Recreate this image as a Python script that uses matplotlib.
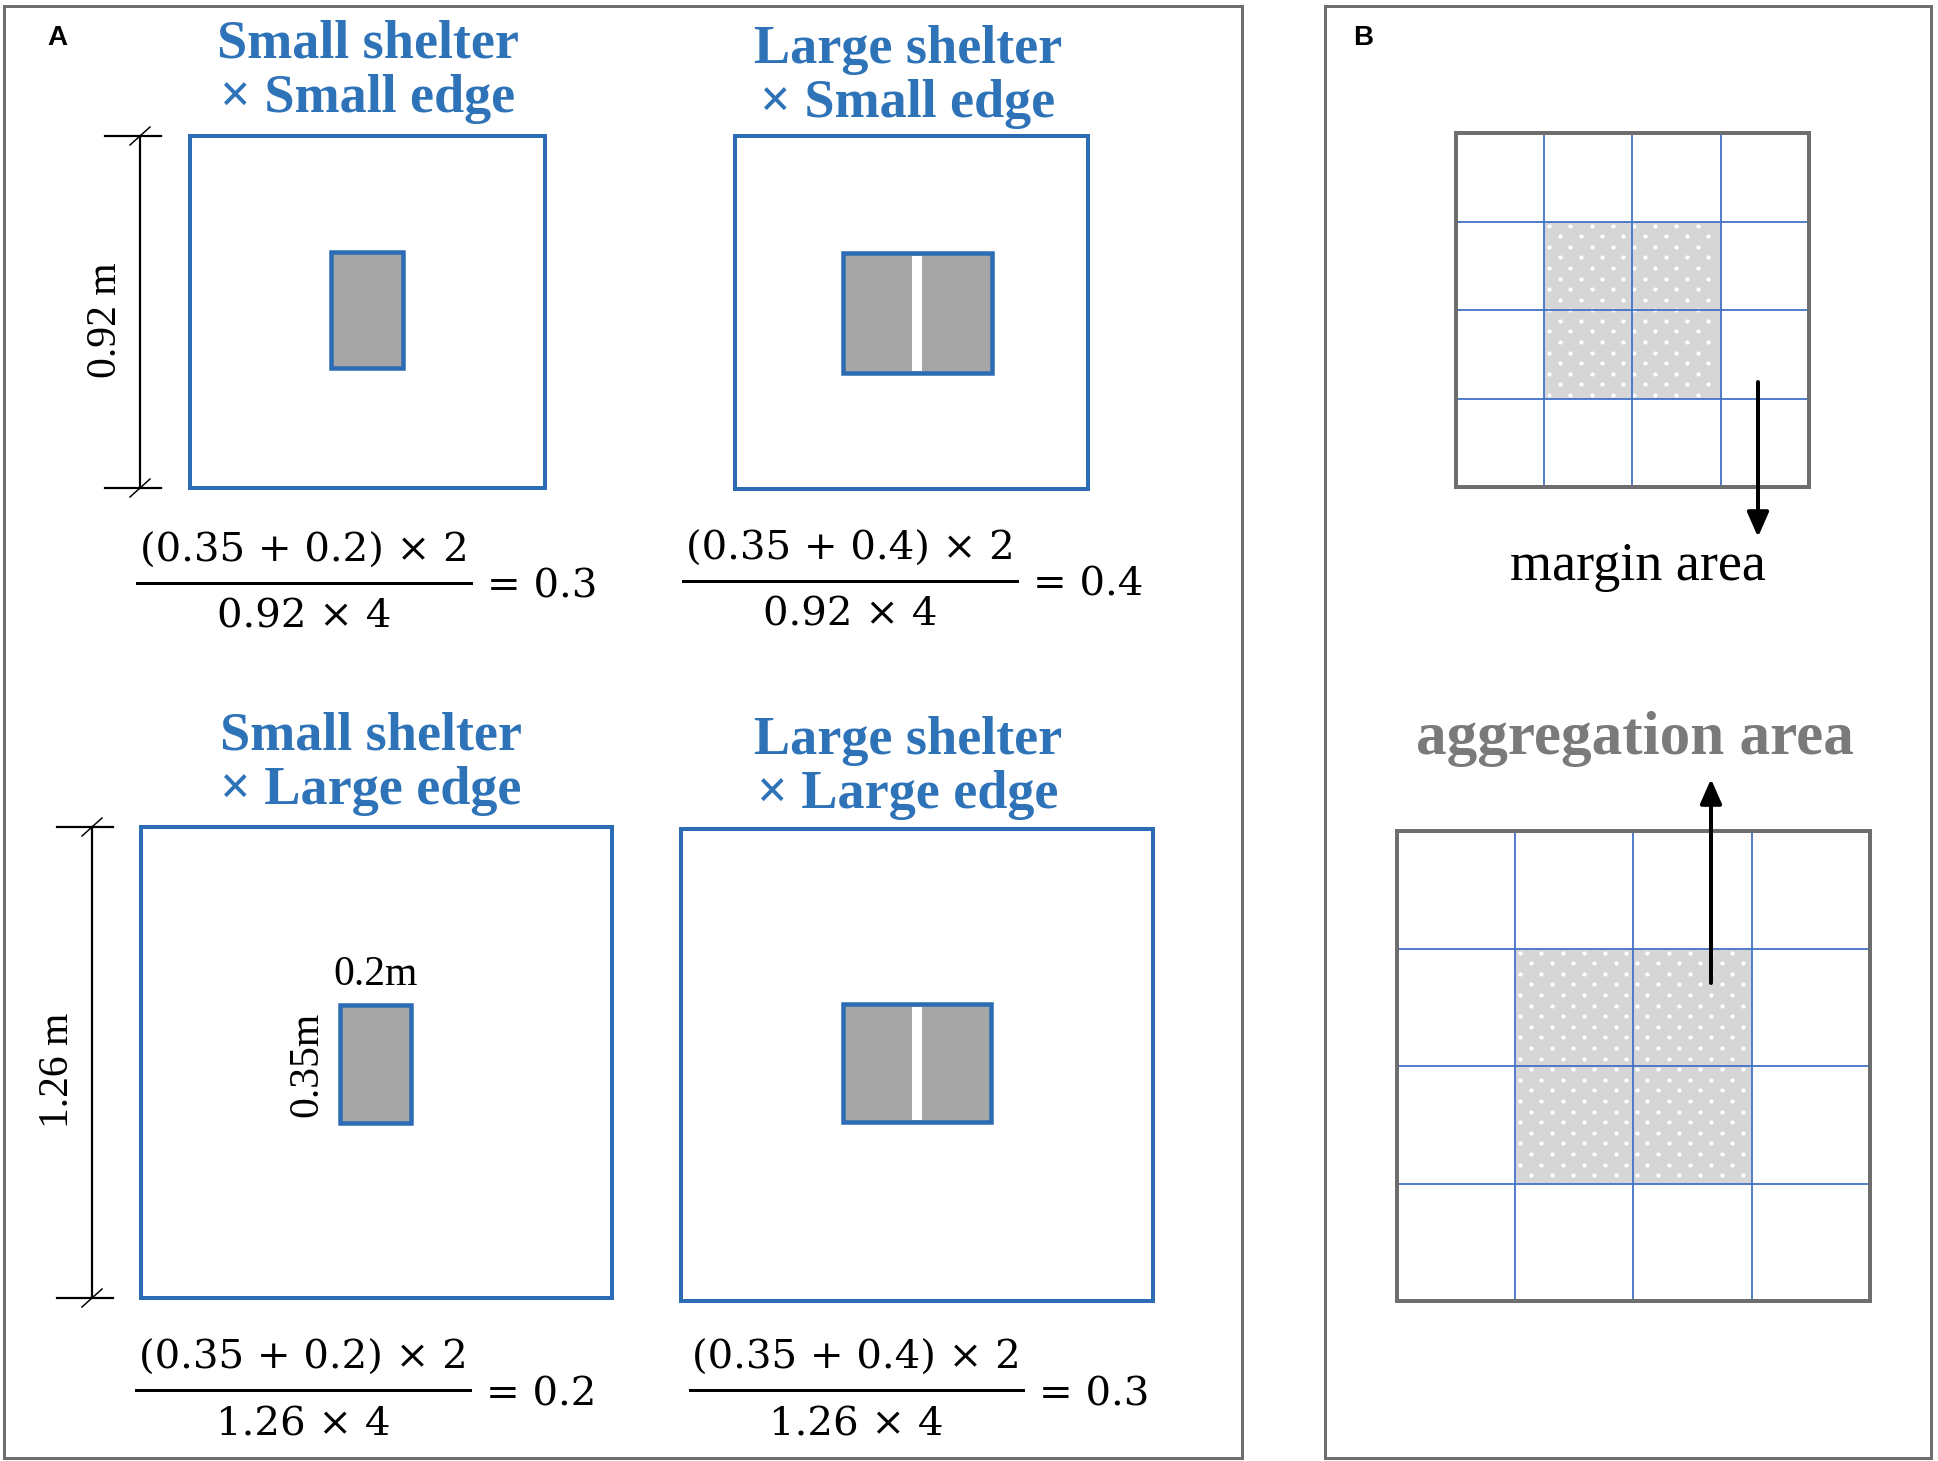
import numpy as np
import matplotlib.pyplot as plt
from matplotlib.patches import Rectangle, FancyArrowPatch

# ---- values shown in the figure ----
EDGE_LENGTHS = [0.92, 0.92, 1.26, 1.26]          # plot edge length (m)
SHELTER_WIDTHS = [0.2, 0.4, 0.2, 0.4]            # shelter width (m)
SHELTER_LENGTH = 0.35                            # shelter length (m)
SHELTER_PARTS = [1, 2, 1, 2]                     # number of shelter pieces
TITLES = [
    ("Small shelter", "× Small edge"),
    ("Large shelter", "× Small edge"),
    ("Small shelter", "× Large edge"),
    ("Large shelter", "× Large edge"),
]
GRID_N = 4
SHADED_CELLS = [(1, 1), (1, 2), (2, 1), (2, 2)]

# ---- layout (pixel coordinates, y down) ----
W, H = 1938, 1461
BOXES = [(190, 136, 545, 488), (735, 136, 1088, 489),
         (141, 827, 612, 1298), (681, 829, 1153, 1301)]
INNER = [(331, 252, 403, 368), (843, 253, 992, 373),
         (340, 1005, 411, 1123), (843, 1004, 991, 1122)]
TITLE_POS = [(368, 58), (908, 63), (371, 750), (908, 754)]
FRAC_POS = [(137, 471, 583), (683, 1017, 581), (136, 470, 1390), (690, 1023, 1390)]
GRID_TOP = (1456, 133, 1809, 487)
GRID_BOTTOM = (1397, 831, 1870, 1301)

BLUE = "#2b6cb4"
TITLE_BLUE = "#2e72b8"
GRID_BLUE = "#4472c4"
FRAME_GRAY = "#6e6e6e"
PX = 0.72  # points per pixel at dpi 100

fig = plt.figure(figsize=(W / 100, H / 100), dpi=100)
ax = fig.add_axes([0, 0, 1, 1])
ax.set_xlim(0, W)
ax.set_ylim(H, 0)
ax.axis("off")

# panel frames
ax.add_patch(Rectangle((4, 6), 1238, 1452, fill=False, ec=FRAME_GRAY, lw=3 * PX))
ax.add_patch(Rectangle((1325, 6), 606, 1452, fill=False, ec=FRAME_GRAY, lw=3 * PX))
ax.text(57, 38, "A", fontsize=20, fontweight="bold", family="Liberation Sans",
        ha="center", va="center")
ax.text(1363, 38, "B", fontsize=20, fontweight="bold", family="Liberation Sans",
        ha="center", va="center")

# ---- panel A ----
for i in range(4):
    x0, y0, x1, y1 = BOXES[i]
    ax.add_patch(Rectangle((x0, y0), x1 - x0, y1 - y0, fill=False, ec=BLUE, lw=4 * PX))
    ix0, iy0, ix1, iy1 = INNER[i]
    ax.add_patch(Rectangle((ix0, iy0), ix1 - ix0, iy1 - iy0, fc="#a6a6a6",
                           ec=BLUE, lw=4.5 * PX, zorder=3))
    if SHELTER_PARTS[i] == 2:
        cx = (ix0 + ix1) / 2
        ax.add_patch(Rectangle((cx - 5, iy0 + 2.5), 10, iy1 - iy0 - 5, fc="white",
                               ec="none", zorder=4))

    tx, ty = TITLE_POS[i]
    for k, line in enumerate(TITLES[i]):
        ax.text(tx, ty + 54 * k, line, fontsize=39, fontweight="bold",
                family="Liberation Serif", color=TITLE_BLUE, ha="center", va="baseline")

    edge = EDGE_LENGTHS[i]
    w = SHELTER_WIDTHS[i]
    ratio = (SHELTER_LENGTH + w) * 2 / (edge * 4)
    fx0, fx1, fy = FRAC_POS[i]
    fc = (fx0 + fx1) / 2
    ax.plot([fx0, fx1], [fy, fy], color="black", lw=3 * PX)
    ax.text(fc, fy - 21, f"({SHELTER_LENGTH} + {w}) × 2", fontsize=29,
            family="DejaVu Serif", ha="center", va="baseline")
    ax.text(fc, fy + 45, f"{edge} × 4", fontsize=29,
            family="DejaVu Serif", ha="center", va="baseline")
    ax.text(fx1 + 16, fy + 15, f"= {ratio:.1f}", fontsize=29,
            family="DejaVu Serif", ha="left", va="baseline")

# dimension lines beside the left boxes
for i, dim_x in [(0, 140), (2, 92)]:
    x0, y0, x1, y1 = BOXES[i]
    ax.plot([dim_x, dim_x], [y0, y1], color="black", lw=2.2 * PX)
    for yy in (y0, y1):
        ax.plot([dim_x - 35, dim_x + 21], [yy, yy], color="black", lw=2.2 * PX)
        ax.plot([dim_x - 10, dim_x + 10], [yy + 9, yy - 9], color="black", lw=1.5 * PX)
    ax.text(dim_x - 34, (y0 + y1) / 2 + 8, f"{EDGE_LENGTHS[i]} m", fontsize=30,
            family="Liberation Serif", rotation=90, ha="center", va="center")

# shelter dimensions in the lower-left box
ix0, iy0, ix1, iy1 = INNER[2]
ax.text((ix0 + ix1) / 2, iy0 - 20, f"{SHELTER_WIDTHS[2]}m", fontsize=30,
        family="Liberation Serif", ha="center", va="baseline")
ax.text(ix0 - 33, (iy0 + iy1) / 2, f"{SHELTER_LENGTH}m", fontsize=30,
        family="Liberation Serif", rotation=90, ha="center", va="center")

# ---- panel B ----
def draw_grid(box):
    gx0, gy0, gx1, gy1 = box
    xs = np.linspace(gx0, gx1, GRID_N + 1)
    ys = np.linspace(gy0, gy1, GRID_N + 1)
    for r, c in SHADED_CELLS:
        ax.add_patch(Rectangle((xs[c], ys[r]), xs[c + 1] - xs[c], ys[r + 1] - ys[r],
                               fc="#d6d6d6", ec="none", zorder=1))
    # white dot texture over the shaded block
    rmin = min(r for r, _ in SHADED_CELLS)
    rmax = max(r for r, _ in SHADED_CELLS)
    cmin = min(c for _, c in SHADED_CELLS)
    cmax = max(c for _, c in SHADED_CELLS)
    sx0, sx1 = xs[cmin], xs[cmax + 1]
    sy0, sy1 = ys[rmin], ys[rmax + 1]
    dots_x, dots_y = [], []
    for j, yy in enumerate(np.arange(sy0 + 4, sy1 - 2, 10.6)):
        off = 0 if j % 2 == 0 else 10.6
        for xx in np.arange(sx0 + 5 + off, sx1 - 2, 21.2):
            dots_x.append(xx)
            dots_y.append(yy)
    ax.scatter(dots_x, dots_y, s=9, color="white", lw=0, zorder=2)
    for x in xs[1:-1]:
        ax.plot([x, x], [gy0, gy1], color=GRID_BLUE, lw=1.8 * PX, zorder=3)
    for y in ys[1:-1]:
        ax.plot([gx0, gx1], [y, y], color=GRID_BLUE, lw=1.8 * PX, zorder=3)
    ax.add_patch(Rectangle((gx0, gy0), gx1 - gx0, gy1 - gy0, fill=False,
                           ec=FRAME_GRAY, lw=4 * PX, zorder=4))


draw_grid(GRID_TOP)
draw_grid(GRID_BOTTOM)

arrow_kw = dict(arrowstyle="-|>,head_length=0.5,head_width=0.22", mutation_scale=30,
                color="black", lw=4 * PX, shrinkA=0, shrinkB=0, zorder=5)
ax.add_patch(FancyArrowPatch((1758, 382), (1758, 537), **arrow_kw))
ax.add_patch(FancyArrowPatch((1711, 983), (1711, 779), **arrow_kw))

ax.text(1638, 580, "margin area", fontsize=39, family="Liberation Serif",
        ha="center", va="baseline")
ax.text(1635, 754, "aggregation area", fontsize=44, fontweight="bold",
        family="Liberation Serif", color="#7a7a7a", ha="center", va="baseline")

fig.savefig("out.png", dpi=100)
